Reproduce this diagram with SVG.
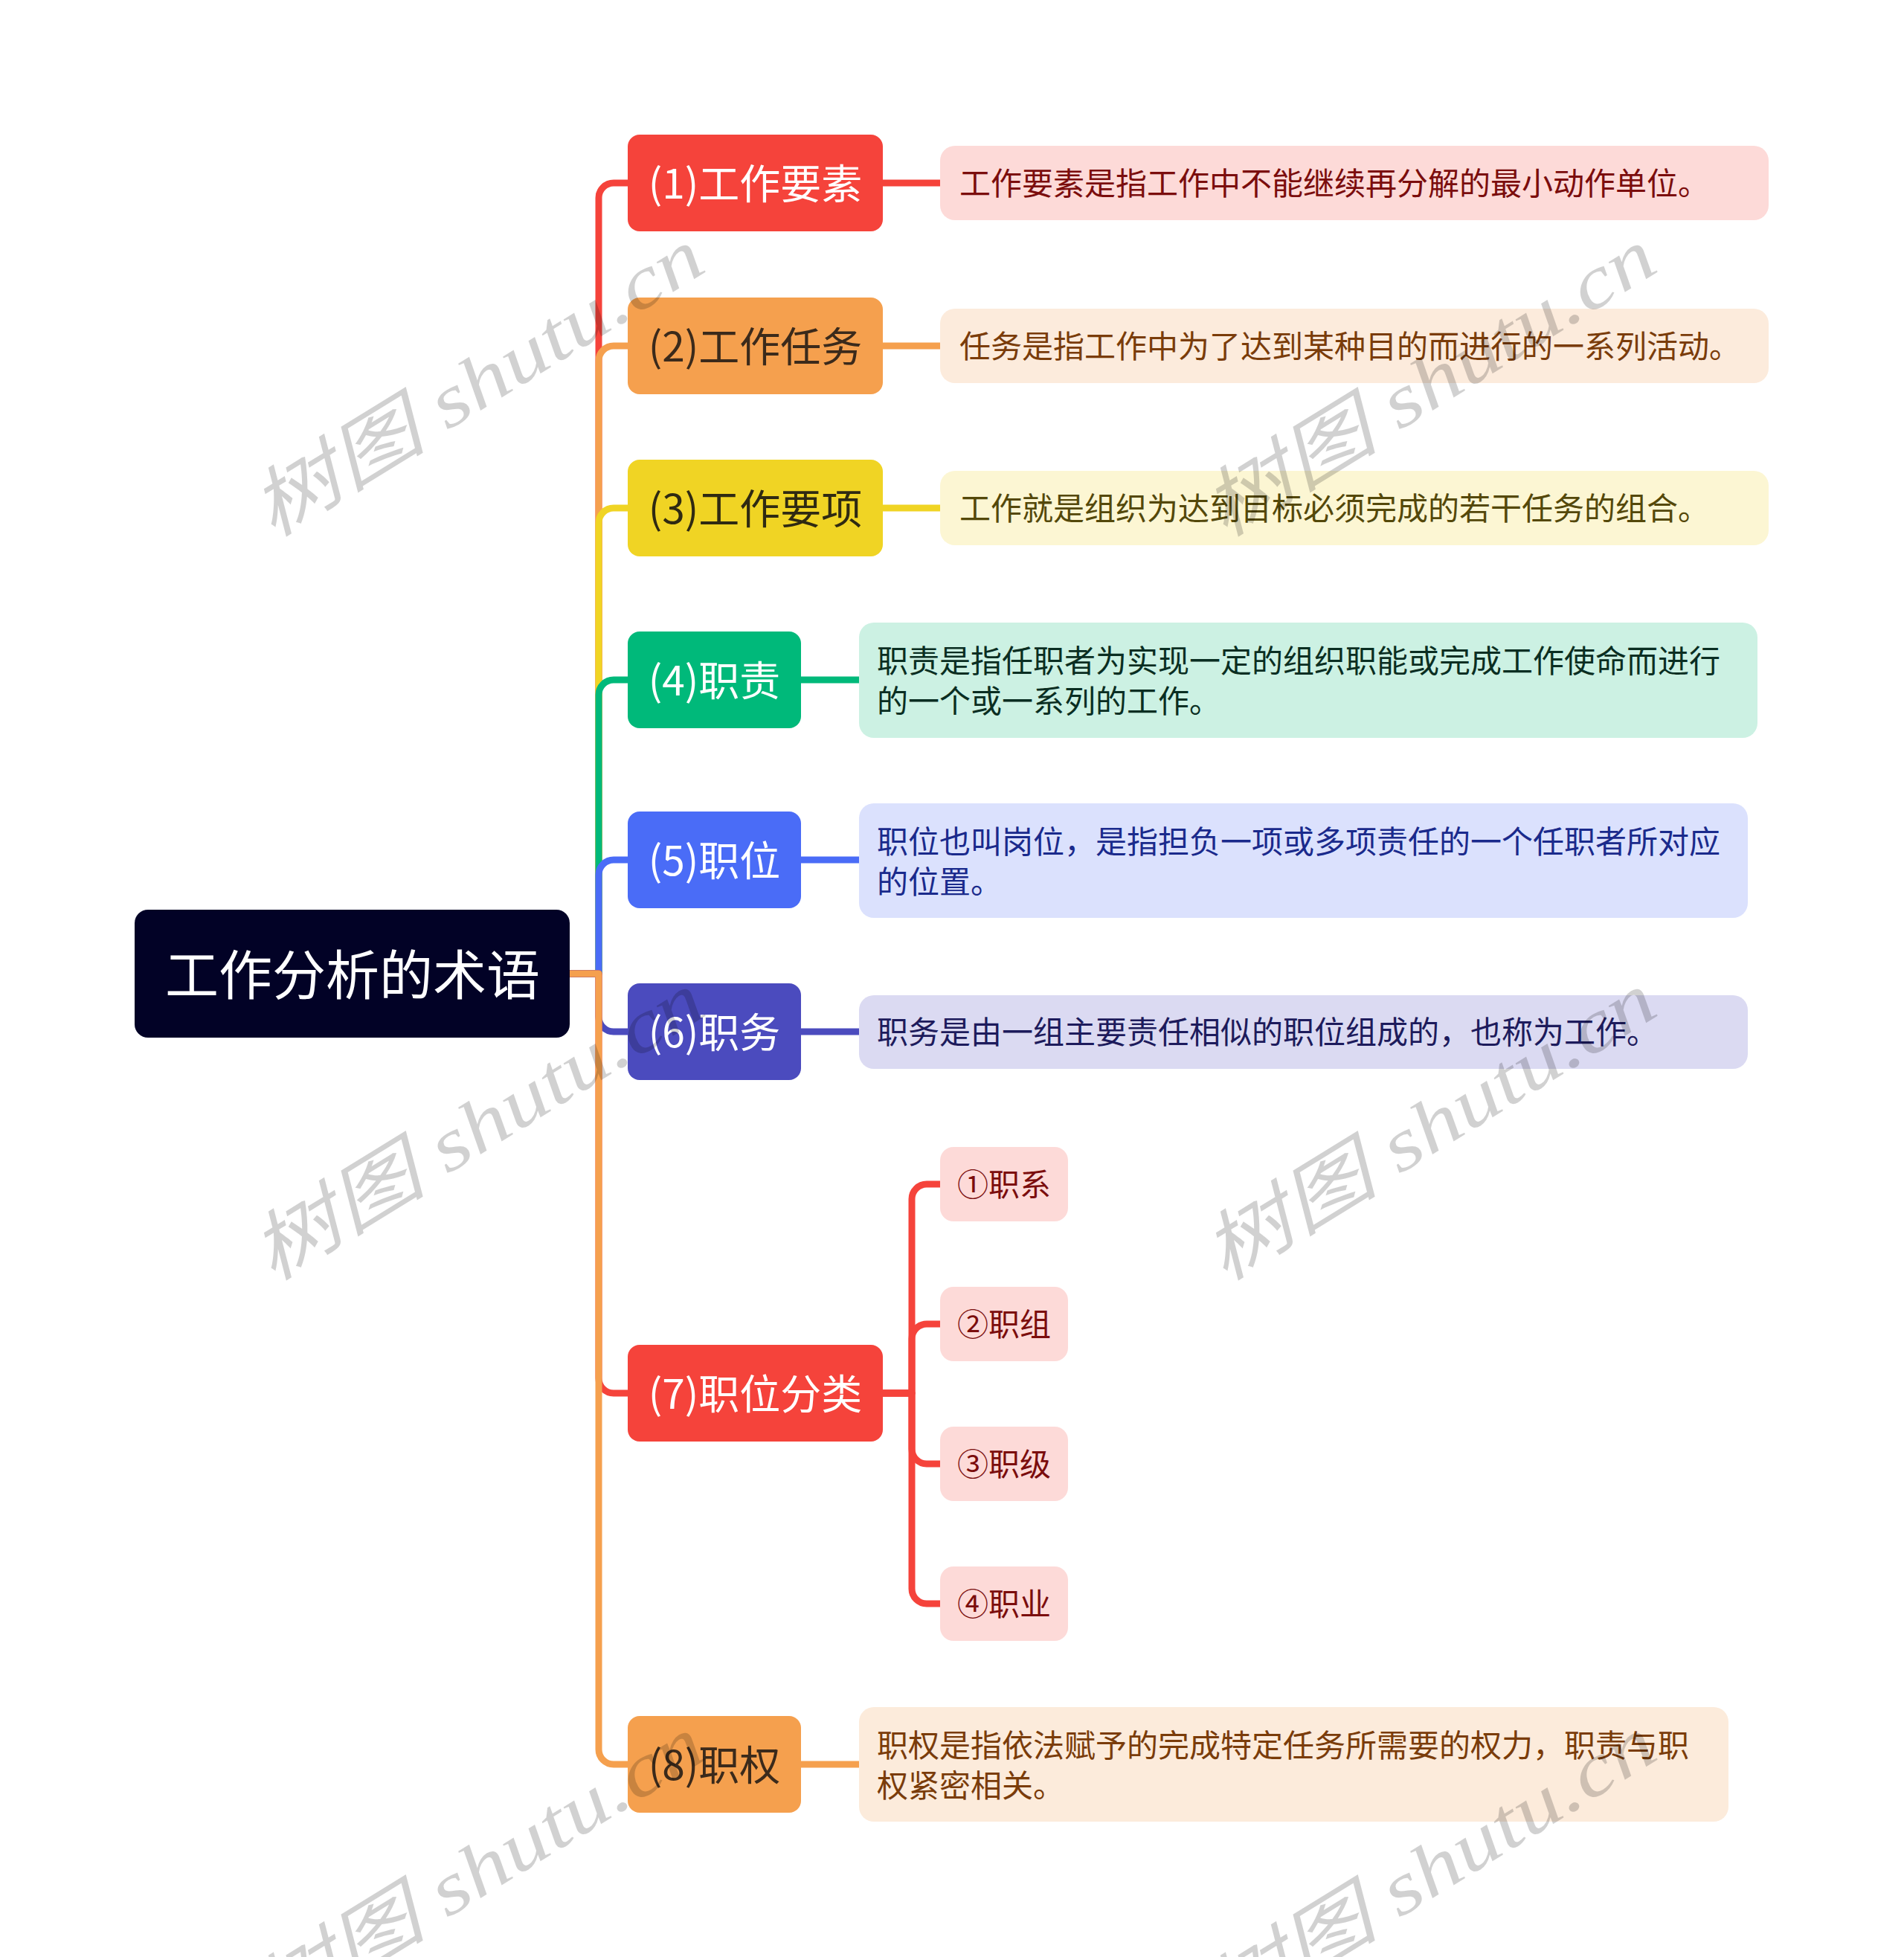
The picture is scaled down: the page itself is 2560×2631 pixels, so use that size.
<svg xmlns="http://www.w3.org/2000/svg" width="2560" height="2631" viewBox="0 0 2560 2631">
<style>
.t{font-family:"Noto Sans CJK SC","Noto Sans",sans-serif;dominant-baseline:central;text-anchor:middle}
.d{font-family:"Noto Sans CJK SC","Noto Sans",sans-serif;dominant-baseline:central;font-size:42px}
.l1{font-size:55px}
.c{fill:none;stroke-width:9;stroke-linecap:butt;stroke-linejoin:round}
.wm{font-family:"Liberation Serif","Noto Sans CJK SC",serif;font-style:italic;font-size:100px;fill:#000;fill-opacity:0.18;text-anchor:middle;dominant-baseline:central}
</style>
<rect width="2560" height="2631" fill="#ffffff"/>
<g id="connectors">
<path class="c" stroke="#F5433B" d="M766,1309 H805 V266 A20,20 0 0 1 825,246 H844"/>
<path class="c" stroke="#F5A04E" d="M766,1309 H805 V485 A20,20 0 0 1 825,465 H844"/>
<path class="c" stroke="#F0D424" d="M766,1309 H805 V703 A20,20 0 0 1 825,683 H844"/>
<path class="c" stroke="#00B97A" d="M766,1309 H805 V934 A20,20 0 0 1 825,914 H844"/>
<path class="c" stroke="#4A6CF7" d="M766,1309 H805 V1176 A20,20 0 0 1 825,1156 H844"/>
<path class="c" stroke="#4B4BBE" d="M766,1309 H805 V1367 A20,20 0 0 0 825,1387 H844"/>
<path class="c" stroke="#F5433B" d="M766,1309 H805 V1853 A20,20 0 0 0 825,1873 H844"/>
<path class="c" stroke="#F5A04E" d="M766,1309 H805 V2352 A20,20 0 0 0 825,2372 H844"/>
<path class="c" stroke="#F5433B" d="M1187,246 H1265"/>
<path class="c" stroke="#F5A04E" d="M1187,465 H1265"/>
<path class="c" stroke="#F0D424" d="M1187,683 H1265"/>
<path class="c" stroke="#00B97A" d="M1077,914 H1156"/>
<path class="c" stroke="#4A6CF7" d="M1077,1156 H1156"/>
<path class="c" stroke="#4B4BBE" d="M1077,1387 H1156"/>
<path class="c" stroke="#F5A04E" d="M1077,2372 H1156"/>
<path class="c" stroke="#F5433B" d="M1187,1873 H1226 V1612 A20,20 0 0 1 1246,1592 H1265"/>
<path class="c" stroke="#F5433B" d="M1187,1873 H1226 V1800 A20,20 0 0 1 1246,1780 H1265"/>
<path class="c" stroke="#F5433B" d="M1187,1873 H1226 V1948 A20,20 0 0 0 1246,1968 H1265"/>
<path class="c" stroke="#F5433B" d="M1187,1873 H1226 V2136 A20,20 0 0 0 1246,2156 H1265"/>
</g>
<g id="root">
<rect x="181" y="1223" width="585" height="172" rx="18" fill="#020226"/>
<text class="t" x="474" y="1305" font-size="72" fill="#ffffff">工作分析的术语</text>
</g>
<g id="n1">
<rect x="844" y="181" width="343" height="130" rx="16" fill="#F5433B"/>
<text class="t l1" x="1015.5" y="243" fill="#ffffff">(1)工作要素</text>
</g>
<g id="d1">
<rect x="1264" y="196" width="1114" height="100" rx="20" fill="#FDDAD8"/>
<text class="d" x="1290" y="243" fill="#7B0D0D">工作要素是指工作中不能继续再分解的最小动作单位。</text>
</g>
<g id="n2">
<rect x="844" y="400" width="343" height="130" rx="16" fill="#F5A04E"/>
<text class="t l1" x="1015.5" y="462" fill="#3B2A1B">(2)工作任务</text>
</g>
<g id="d2">
<rect x="1264" y="415" width="1114" height="100" rx="20" fill="#FCEBDC"/>
<text class="d" x="1290" y="462" fill="#7A3C0A">任务是指工作中为了达到某种目的而进行的一系列活动。</text>
</g>
<g id="n3">
<rect x="844" y="618" width="343" height="130" rx="16" fill="#F0D424"/>
<text class="t l1" x="1015.5" y="680" fill="#2F2A12">(3)工作要项</text>
</g>
<g id="d3">
<rect x="1264" y="633" width="1114" height="100" rx="20" fill="#FCF6D3"/>
<text class="d" x="1290" y="680" fill="#54480A">工作就是组织为达到目标必须完成的若干任务的组合。</text>
</g>
<g id="n4">
<rect x="844" y="849" width="233" height="130" rx="16" fill="#00B97A"/>
<text class="t l1" x="960.5" y="911" fill="#ffffff">(4)职责</text>
</g>
<g id="d4">
<rect x="1155" y="837" width="1208" height="155" rx="20" fill="#CCF1E3"/>
<text class="d" x="1179" y="885" fill="#0A2E22">职责是指任职者为实现一定的组织职能或完成工作使命而进行</text>
<text class="d" x="1179" y="939" fill="#0A2E22">的一个或一系列的工作。</text>
</g>
<g id="n5">
<rect x="844" y="1091" width="233" height="130" rx="16" fill="#4A6CF7"/>
<text class="t l1" x="960.5" y="1153" fill="#ffffff">(5)职位</text>
</g>
<g id="d5">
<rect x="1155" y="1080" width="1195" height="154" rx="20" fill="#DBE1FD"/>
<text class="d" x="1179" y="1128" fill="#1A2A8C">职位也叫岗位，是指担负一项或多项责任的一个任职者所对应</text>
<text class="d" x="1179" y="1182" fill="#1A2A8C">的位置。</text>
</g>
<g id="n6">
<rect x="844" y="1322" width="233" height="130" rx="16" fill="#4B4BBE"/>
<text class="t l1" x="960.5" y="1384" fill="#ffffff">(6)职务</text>
</g>
<g id="d6">
<rect x="1155" y="1338" width="1195" height="99" rx="20" fill="#DBDAF2"/>
<text class="d" x="1179" y="1384" fill="#1D1B5C">职务是由一组主要责任相似的职位组成的，也称为工作。</text>
</g>
<g id="n7">
<rect x="844" y="1808" width="343" height="130" rx="16" fill="#F5433B"/>
<text class="t l1" x="1015.5" y="1870" fill="#ffffff">(7)职位分类</text>
</g>
<g id="s1">
<rect x="1264" y="1542" width="172" height="100" rx="18" fill="#FDDAD8"/>
<text class="t" x="1350" y="1589" font-size="42" fill="#7B0D0D">①职系</text>
</g>
<g id="s2">
<rect x="1264" y="1730" width="172" height="100" rx="18" fill="#FDDAD8"/>
<text class="t" x="1350" y="1777" font-size="42" fill="#7B0D0D">②职组</text>
</g>
<g id="s3">
<rect x="1264" y="1918" width="172" height="100" rx="18" fill="#FDDAD8"/>
<text class="t" x="1350" y="1965" font-size="42" fill="#7B0D0D">③职级</text>
</g>
<g id="s4">
<rect x="1264" y="2106" width="172" height="100" rx="18" fill="#FDDAD8"/>
<text class="t" x="1350" y="2153" font-size="42" fill="#7B0D0D">④职业</text>
</g>
<g id="n8">
<rect x="844" y="2307" width="233" height="130" rx="16" fill="#F5A04E"/>
<text class="t l1" x="960.5" y="2369" fill="#3B2A1B">(8)职权</text>
</g>
<g id="d8">
<rect x="1155" y="2295" width="1169" height="154" rx="20" fill="#FCEBDB"/>
<text class="d" x="1179" y="2343" fill="#7A3C0A">职权是指依法赋予的完成特定任务所需要的权力，职责与职</text>
<text class="d" x="1179" y="2397" fill="#7A3C0A">权紧密相关。</text>
</g>
<g id="watermarks">
<text class="wm" transform="translate(642,515) rotate(-31.6)" textLength="690" lengthAdjust="spacingAndGlyphs">树图 shutu.cn</text>
<text class="wm" transform="translate(1922,515) rotate(-31.6)" textLength="690" lengthAdjust="spacingAndGlyphs">树图 shutu.cn</text>
<text class="wm" transform="translate(642,1515) rotate(-31.6)" textLength="690" lengthAdjust="spacingAndGlyphs">树图 shutu.cn</text>
<text class="wm" transform="translate(1922,1515) rotate(-31.6)" textLength="690" lengthAdjust="spacingAndGlyphs">树图 shutu.cn</text>
<text class="wm" transform="translate(642,2515) rotate(-31.6)" textLength="690" lengthAdjust="spacingAndGlyphs">树图 shutu.cn</text>
<text class="wm" transform="translate(1922,2515) rotate(-31.6)" textLength="690" lengthAdjust="spacingAndGlyphs">树图 shutu.cn</text>
</g>
</svg>
